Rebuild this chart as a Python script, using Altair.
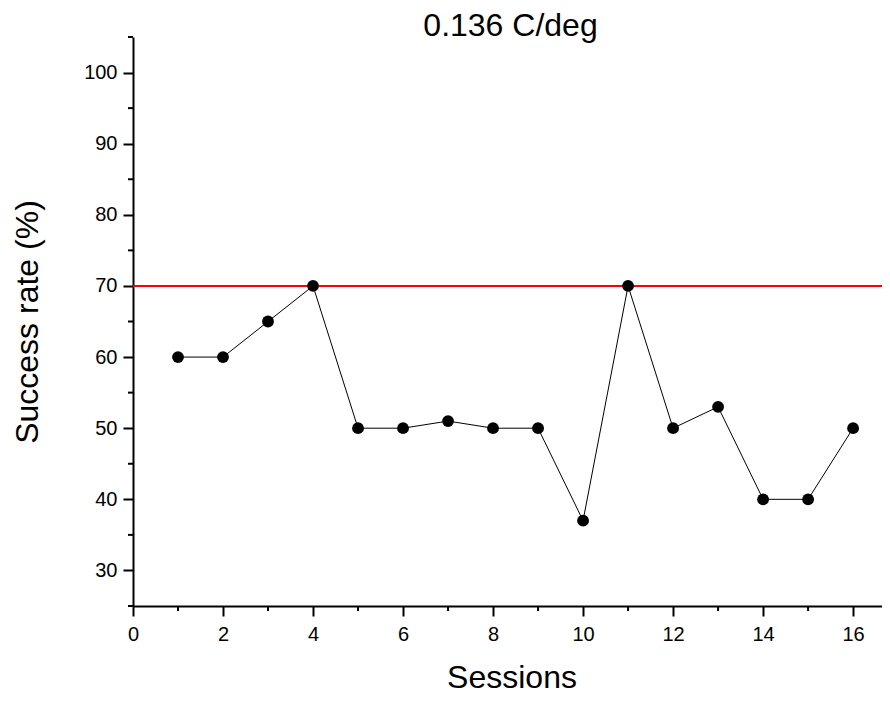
import altair as alt
import pandas as pd

sessions = list(range(1, 17))
success = [60, 60, 65, 70, 50, 50, 51, 50, 50, 37, 70, 50, 53, 40, 40, 50]
threshold = [70]
title_text = ["0.136 C/deg"]
x_major = [0, 2, 4, 6, 8, 10, 12, 14, 16]
x_minor = [1, 3, 5, 7, 9, 11, 13, 15]
y_major = [30, 40, 50, 60, 70, 80, 90, 100]
y_minor = [25, 35, 45, 55, 65, 75, 85, 95, 105]

df = pd.DataFrame({"s": sessions, "r": success})
FONT = "Liberation Sans"
W, H = 757, 569

xs = alt.Scale(domain=[0, 16.82], nice=False, zero=False)
ys = alt.Scale(domain=[25, 105], nice=False, zero=False)

xaxis = alt.Axis(values=x_major, tickSize=10, tickWidth=2, domainWidth=2,
                 domainColor="black", tickColor="black", grid=False,
                 labelFont=FONT, labelFontSize=20, labelColor="black", labelPadding=8,
                 title="Sessions", titleFont=FONT, titleFontSize=32, titleFontWeight="normal",
                 titleColor="black", titleBaseline="alphabetic", titleY=81, labelFlush=False)
yaxis = alt.Axis(values=y_major, tickSize=10, tickWidth=2, domainWidth=2,
                 domainColor="black", tickColor="black", grid=False,
                 labelFont=FONT, labelFontSize=20, labelColor="black", labelPadding=6,
                 title="Success rate (%)", titleFont=FONT, titleFontSize=32, titleFontWeight="normal",
                 titleColor="black", titleBaseline="alphabetic", titleX=-96, titleY=H / 2,
                 titleAngle=-90, labelFlush=False)

base = alt.Chart(df)
line = base.mark_line(color="black", strokeWidth=1).encode(
    x=alt.X("s:Q", scale=xs, axis=xaxis), y=alt.Y("r:Q", scale=ys, axis=yaxis))
pts = base.mark_circle(color="black", size=140, opacity=1).encode(x="s:Q", y="r:Q")
red = alt.Chart(pd.DataFrame({"t": threshold})).mark_rule(color="#ff0000", strokeWidth=2).encode(y="t:Q")
xmin = alt.Chart(pd.DataFrame({"m": x_minor})).mark_rule(color="black", strokeWidth=2).encode(
    x="m:Q", y=alt.value(H), y2=alt.value(H + 5))
ymin = alt.Chart(pd.DataFrame({"m": y_minor})).mark_rule(color="black", strokeWidth=2).encode(
    y="m:Q", x=alt.value(0), x2=alt.value(-5))
title = alt.Chart(pd.DataFrame({"t": title_text})).mark_text(
    font=FONT, fontSize=32, color="black", align="center", baseline="alphabetic").encode(
    text="t:N", x=alt.value(W / 2 - 1), y=alt.value(-1))

chart = alt.layer(red, line, pts, xmin, ymin, title).properties(
    width=W, height=H,
    background="white",
    autosize=alt.AutoSizeParams(type="none"),
    padding={"left": 125, "top": 29, "right": -8, "bottom": 88},
).configure_view(stroke=None)

chart.save("out.html", embed_options={"renderer": "svg", "actions": False})
